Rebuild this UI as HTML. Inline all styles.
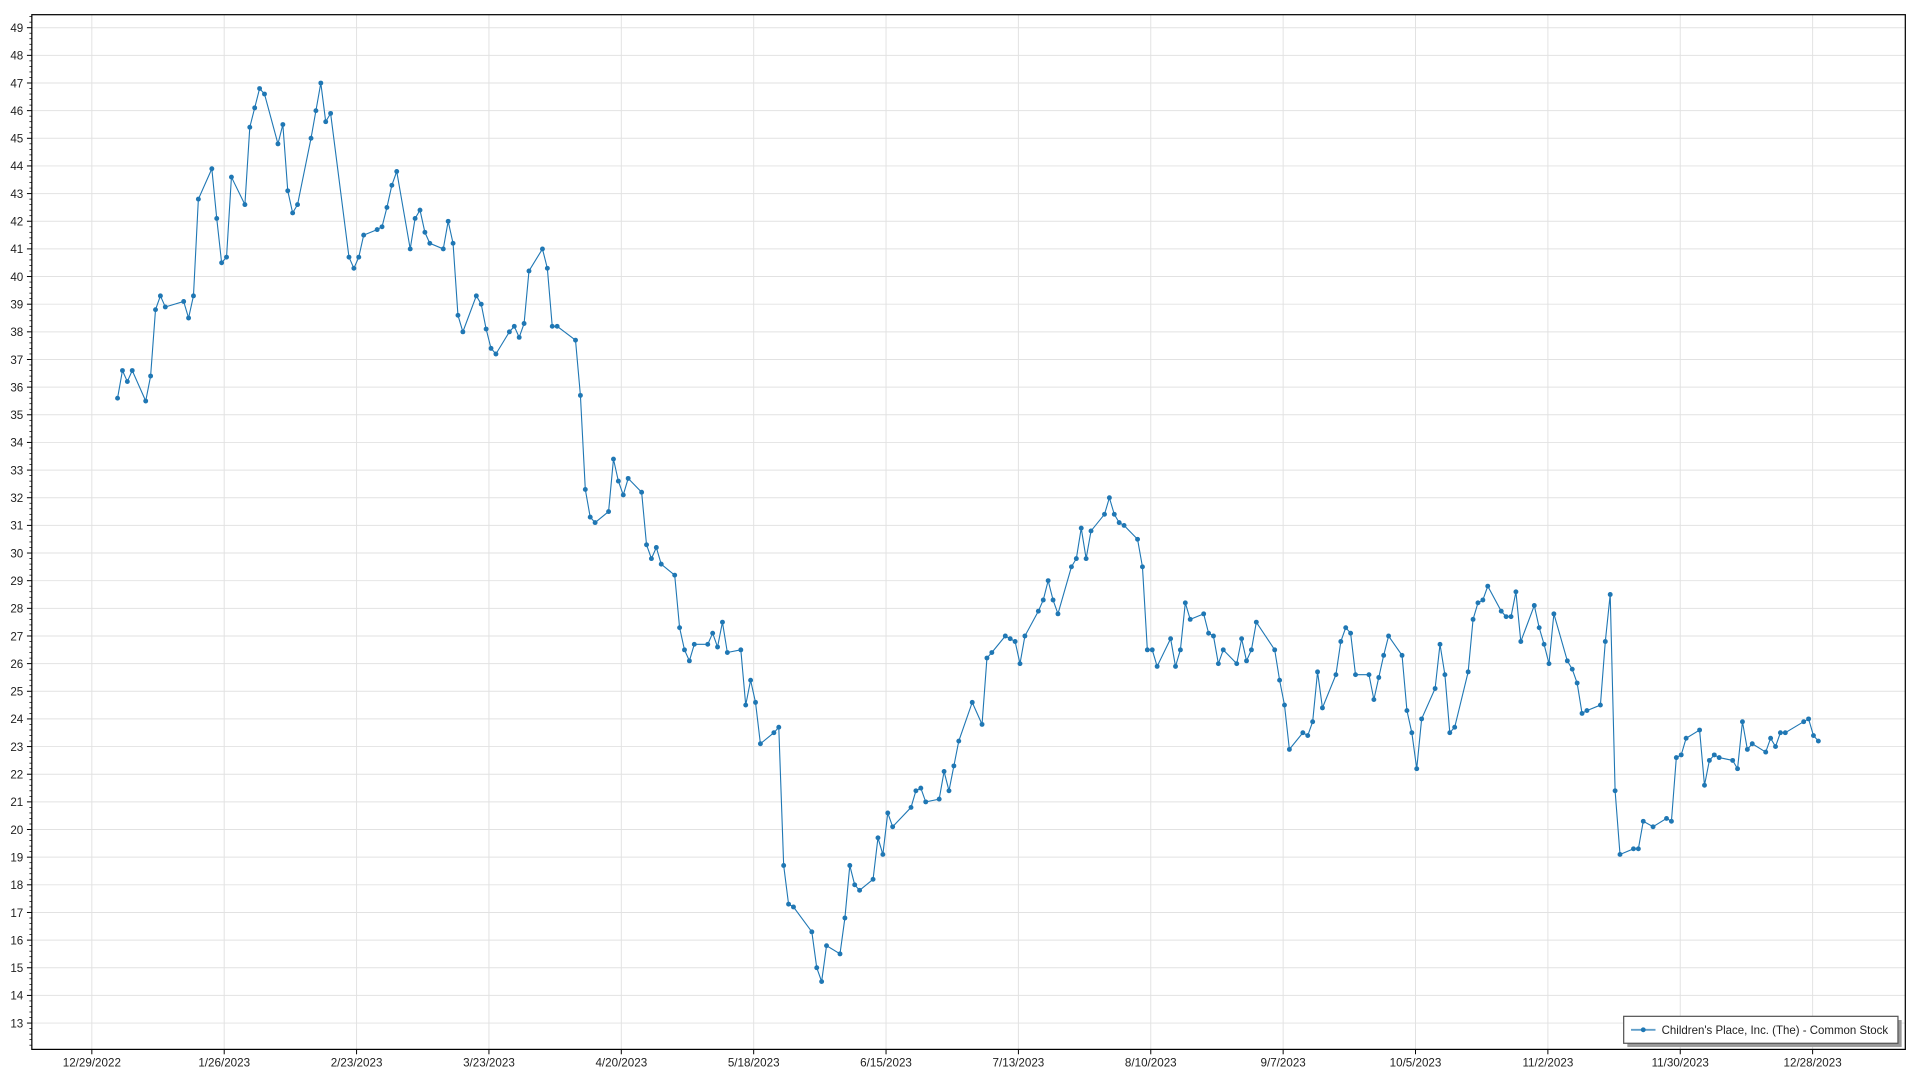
<!DOCTYPE html>
<html><head><meta charset="utf-8"><style>
html,body{margin:0;padding:0;background:#fff;}
svg{display:block;}
text{font-family:"Liberation Sans",sans-serif;fill:#222;}
</style></head><body>
<svg id="s" width="1920" height="1080" viewBox="0 0 1568 882" xmlns="http://www.w3.org/2000/svg">
<rect width="1568" height="882" fill="#fff"/>
<g id="grid"></g>
<polyline id="line" fill="none" stroke="#1f77b4" stroke-width="0.9"/>
<g id="pts" fill="#1f77b4"></g>
<rect x="26" y="12" width="1530" height="845" fill="none" stroke="#000" stroke-width="1"/>
<g id="ticks"></g>
<rect x="1329" y="833" width="224" height="22" fill="#999"/>
<rect x="1326" y="830" width="224" height="22" fill="#fff" stroke="#555" stroke-width="1"/>
<line x1="1332" y1="841" x2="1352" y2="841" stroke="#1f77b4" stroke-width="1.5" opacity="0.7"/>
<circle cx="1342" cy="841" r="2" fill="#1f77b4"/>
<text x="1357" y="844.5" font-size="9.5" textLength="185" lengthAdjust="spacingAndGlyphs">Children's Place, Inc. (The) - Common Stock</text>
</svg>
<script>
var ns="http://www.w3.org/2000/svg";
function el(p,t,a,tx){var e=document.createElementNS(ns,t);for(var k in a)e.setAttribute(k,a[k]);if(tx)e.textContent=tx;document.getElementById(p).appendChild(e);return e;}
function Y(v){return 835.5-(v-13)*22.58;}
for(var v=13;v<=49;v++){var y=Y(v);
 el("grid","line",{x1:26,x2:1556,y1:y,y2:y,stroke:"#e2e2e2","stroke-width":0.8});
 el("ticks","line",{x1:22,x2:26,y1:y,y2:y,stroke:"#000","stroke-width":0.8});
 el("ticks","text",{x:19,y:y+3.5,"font-size":9.5,"text-anchor":"end"},""+v);
 for(var m=1;m<5;m++){var ym=Y(v+m*0.2);if(ym>12)el("ticks","line",{x1:24,x2:26,y1:ym,y2:ym,stroke:"#000","stroke-width":0.6});}
}
for(var m=1;m<5;m++){el("ticks","line",{x1:24,x2:26,y1:Y(13-m*0.2),y2:Y(13-m*0.2),stroke:"#000","stroke-width":0.6});}
var labs=["12/29/2022","1/26/2023","2/23/2023","3/23/2023","4/20/2023","5/18/2023","6/15/2023","7/13/2023","8/10/2023","9/7/2023","10/5/2023","11/2/2023","11/30/2023","12/28/2023"];
for(var i=0;i<labs.length;i++){var x=75+i*108.1;
 el("grid","line",{x1:x,x2:x,y1:12,y2:857,stroke:"#e2e2e2","stroke-width":0.8});
 el("ticks","line",{x1:x,x2:x,y1:857,y2:861,stroke:"#000","stroke-width":0.8});
 el("ticks","text",{x:x,y:871,"font-size":9.5,"text-anchor":"middle"},labs[i]);}
var d=[[96,35.6],[100,36.6],[104,36.2],[108,36.6],[119,35.5],[123,36.4],[127,38.8],[131,39.3],[135,38.9],[150,39.1],[154,38.5],[158,39.3],[162,42.8],[173,43.9],[177,42.1],[181,40.5],[185,40.7],[189,43.6],[200,42.6],[204,45.4],[208,46.1],[212,46.8],[216,46.6],[227,44.8],[231,45.5],[235,43.1],[239,42.3],[243,42.6],[254,45.0],[258,46.0],[262,47.0],[266,45.6],[270,45.9],[285,40.7],[289,40.3],[293,40.7],[297,41.5],[308,41.7],[312,41.8],[316,42.5],[320,43.3],[324,43.8],[335,41.0],[339,42.1],[343,42.4],[347,41.6],[351,41.2],[362,41.0],[366,42.0],[370,41.2],[374,38.6],[378,38.0],[389,39.3],[393,39.0],[397,38.1],[401,37.4],[405,37.2],[416,38.0],[420,38.2],[424,37.8],[428,38.3],[432,40.2],[443,41.0],[447,40.3],[451,38.2],[455,38.2],[470,37.7],[474,35.7],[478,32.3],[482,31.3],[486,31.1],[497,31.5],[501,33.4],[505,32.6],[509,32.1],[513,32.7],[524,32.2],[528,30.3],[532,29.8],[536,30.2],[540,29.6],[551,29.2],[555,27.3],[559,26.5],[563,26.1],[567,26.7],[578,26.7],[582,27.1],[586,26.6],[590,27.5],[594,26.4],[605,26.5],[609,24.5],[613,25.4],[617,24.6],[621,23.1],[632,23.5],[636,23.7],[640,18.7],[644,17.3],[648,17.2],[663,16.3],[667,15.0],[671,14.5],[675,15.8],[686,15.5],[690,16.8],[694,18.7],[698,18.0],[702,17.8],[713,18.2],[717,19.7],[721,19.1],[725,20.6],[729,20.1],[744,20.8],[748,21.4],[752,21.5],[756,21.0],[767,21.1],[771,22.1],[775,21.4],[779,22.3],[783,23.2],[794,24.6],[802,23.8],[806,26.2],[810,26.4],[821,27.0],[825,26.9],[829,26.8],[833,26.0],[837,27.0],[848,27.9],[852,28.3],[856,29.0],[860,28.3],[864,27.8],[875,29.5],[879,29.8],[883,30.9],[887,29.8],[891,30.8],[902,31.4],[906,32.0],[910,31.4],[914,31.1],[918,31.0],[929,30.5],[933,29.5],[937,26.5],[941,26.5],[945,25.9],[956,26.9],[960,25.9],[964,26.5],[968,28.2],[972,27.6],[983,27.8],[987,27.1],[991,27.0],[995,26.0],[999,26.5],[1010,26.0],[1014,26.9],[1018,26.1],[1022,26.5],[1026,27.5],[1041,26.5],[1045,25.4],[1049,24.5],[1053,22.9],[1064,23.5],[1068,23.4],[1072,23.9],[1076,25.7],[1080,24.4],[1091,25.6],[1095,26.8],[1099,27.3],[1103,27.1],[1107,25.6],[1118,25.6],[1122,24.7],[1126,25.5],[1130,26.3],[1134,27.0],[1145,26.3],[1149,24.3],[1153,23.5],[1157,22.2],[1161,24.0],[1172,25.1],[1176,26.7],[1180,25.6],[1184,23.5],[1188,23.7],[1199,25.7],[1203,27.6],[1207,28.2],[1211,28.3],[1215,28.8],[1226,27.9],[1230,27.7],[1234,27.7],[1238,28.6],[1242,26.8],[1253,28.1],[1257,27.3],[1261,26.7],[1265,26.0],[1269,27.8],[1280,26.1],[1284,25.8],[1288,25.3],[1292,24.2],[1296,24.3],[1307,24.5],[1311,26.8],[1315,28.5],[1319,21.4],[1323,19.1],[1334,19.3],[1338,19.3],[1342,20.3],[1350,20.1],[1361,20.4],[1365,20.3],[1369,22.6],[1373,22.7],[1377,23.3],[1388,23.6],[1392,21.6],[1396,22.5],[1400,22.7],[1404,22.6],[1415,22.5],[1419,22.2],[1423,23.9],[1427,22.9],[1431,23.1],[1442,22.8],[1446,23.3],[1450,23.0],[1454,23.5],[1458,23.5],[1473,23.9],[1477,24.0],[1481,23.4],[1485,23.2]];
var p=[];for(var i=0;i<d.length;i++){var x=d[i][0],y=Y(d[i][1]);p.push(x+","+y.toFixed(1));el("pts","circle",{cx:x,cy:y.toFixed(1),r:2});}
document.getElementById("line").setAttribute("points",p.join(" "));
</script>
</body></html>
